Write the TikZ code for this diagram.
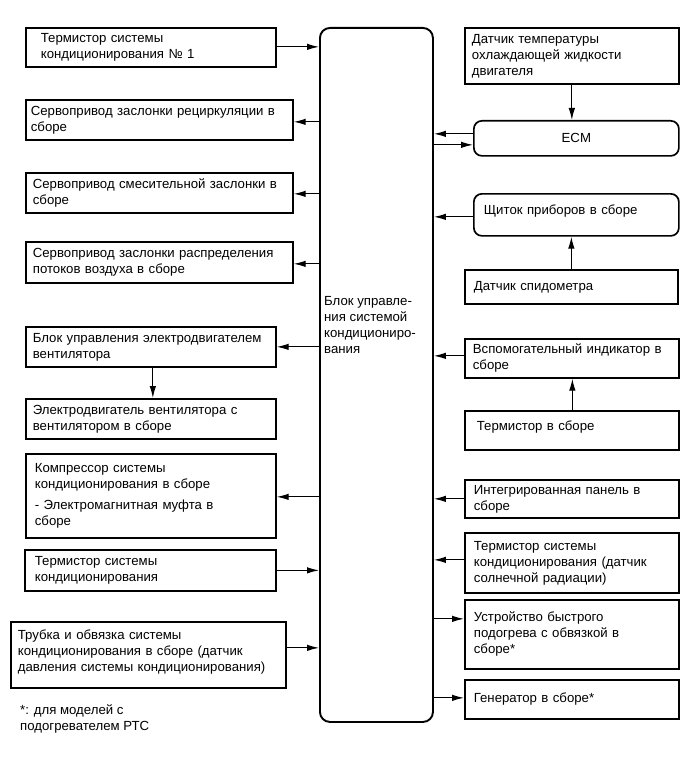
\documentclass[tikz,border=0pt]{standalone}
\usepackage{fontspec}
\setmainfont{Liberation Sans}
\usetikzlibrary{arrows.meta}
\newcommand\dfont{\fontsize{13.2}{16}\selectfont}
\begin{document}
\begin{tikzpicture}[x=1pt,y=-1pt,
  box/.style={draw, line width=1.7pt, anchor=north west, align=left, inner ysep=0pt, font=\dfont},
  rbox/.style={box, rounded corners=8pt},
  arr/.style={line width=1.1pt, -{Latex[length=12pt,width=6.5pt]}},
  lbl/.style={anchor=north west, align=left, inner sep=0pt, font=\dfont}]
\useasboundingbox (0,0) rectangle (690,757);
% centre block
\node[draw, line width=1.9pt, rounded corners=10pt, anchor=north west, minimum width=113, minimum height=694, inner sep=0pt] (C) at (319,27) {};
\node[anchor=west, align=left, inner sep=0pt, font=\dfont] (Ct) at (324,325) {Блок управле-\\ния системой\\кондициониро-\\вания};
% left boxes
\node[box, minimum width=250, minimum height=39, text width=220, inner xsep=15] (L1) at (25,27) {Термистор системы\\кондиционирования № 1};
\node[box, minimum width=267, minimum height=40, text width=257, inner xsep=5] (L2) at (25,99) {Сервопривод заслонки рециркуляции в\\сборе};
\node[box, minimum width=267, minimum height=40, text width=253, inner xsep=7] (L3) at (25,172) {Сервопривод смесительной заслонки в\\сборе};
\node[box, minimum width=267, minimum height=41, text width=253, inner xsep=7] (L4) at (25,241) {Сервопривод заслонки распределения\\потоков воздуха в сборе};
\node[box, minimum width=250, minimum height=40, text width=236, inner xsep=7] (L5) at (25,326) {Блок управления электродвигателем\\вентилятора};
\node[box, minimum width=250, minimum height=40, text width=236, inner xsep=7] (L6) at (25,398) {Электродвигатель вентилятора с\\вентилятором в сборе};
\node[box, minimum width=250, minimum height=84, text width=232, inner xsep=9] (L7) at (25,453) {Компрессор системы\\кондиционирования в сборе\\[5pt]- Электромагнитная муфта в\\сборе};
\node[box, minimum width=251, minimum height=41, text width=231, inner xsep=10] (L8) at (24,549) {Термистор системы\\кондиционирования};
\node[box, minimum width=275, minimum height=66, text width=261, inner xsep=7] (L9) at (10,621) {Трубка и обвязка системы\\кондиционирования в сборе (датчик\\давления системы кондиционирования)\\[-8pt]\mbox{}};
\node[lbl] (F) at (20,704) {*: для моделей с\\подогревателем РТС};
% right boxes
\node[box, minimum width=214, minimum height=56, text width=200, inner xsep=7] (R1) at (464,27) {Датчик температуры\\охлаждающей жидкости\\двигателя};
\node[rbox, minimum width=205, minimum height=35, text width=191, inner xsep=7, align=center] (ECM) at (473,120) {ECM};
\node[rbox, minimum width=205, minimum height=42, text width=185, inner xsep=10] (R2) at (473,193) {Щиток приборов в сборе\\[-6pt]\mbox{}};
\node[box, minimum width=213, minimum height=34, text width=195, inner xsep=9] (R3) at (464,269) {Датчик спидометра};
\node[box, minimum width=214, minimum height=39, text width=198, inner xsep=8] (R4) at (464,338) {Вспомогательный индикатор в\\сборе};
\node[box, minimum width=214, minimum height=39, text width=190, inner xsep=12] (R5) at (464,410) {Термистор в сборе\\[-6pt]\mbox{}};
\node[box, minimum width=214, minimum height=38, text width=196, inner xsep=9] (R6) at (464,479) {Интегрированная панель в\\сборе};
\node[box, minimum width=214, minimum height=60, text width=196, inner xsep=9] (R7) at (464,532) {Термистор системы\\кондиционирования (датчик\\солнечной радиации)};
\node[box, minimum width=214, minimum height=69, text width=196, inner xsep=9] (R8) at (464,599) {Устройство быстрого\\подогрева с обвязкой в\\сборе*};
\node[box, minimum width=214, minimum height=39, text width=196, inner xsep=9] (R9) at (464,679) {Генератор в сборе*};
% connectors left
\draw[arr] ([yshift=0.5]L1.east) -- ([yshift=0.5]L1.east -| C.west);
\draw[arr] ([yshift=-2]L2.east -| C.west) -- ([yshift=-2]L2.east);
\draw[arr] ([yshift=-1]L3.east -| C.west) -- ([yshift=-1]L3.east);
\draw[arr] ([yshift=-1.5]L4.east -| C.west) -- ([yshift=-1.5]L4.east);
\draw[arr] (L5.east -| C.west) -- (L5.east);
\draw[arr] ([xshift=2]L5.south) -- ([xshift=2]L6.north);
\draw[arr] ([yshift=-1]L7.east -| C.west) -- ([yshift=-1]L7.east);
\draw[arr] (L8.east) -- (L8.east -| C.west);
\draw[arr] ([yshift=7]L9.east) -- ([yshift=7]L9.east -| C.west);
% connectors right
\draw[arr] (R1.south) -- (R1.south |- ECM.north);
\draw[arr] ([yshift=4.5]ECM.west) -- ([yshift=4.5]ECM.west -| C.east);
\draw[arr] ([yshift=-6.5]ECM.west -| C.east) -- ([yshift=-6.5]ECM.west);
\draw[arr] ([yshift=-2]R2.west) -- ([yshift=-2]R2.west -| C.east);
\draw[arr] (R3.north) -- (R3.north |- R2.south);
\draw[arr] ([yshift=2.5]R4.west) -- ([yshift=2.5]R4.west -| C.east);
\draw[arr] ([xshift=0.5]R5.north) -- ([xshift=0.5]R5.north |- R4.south);
\draw[arr] (R6.west) -- (R6.west -| C.east);
\draw[arr] ([yshift=3]R7.west) -- ([yshift=3]R7.west -| C.east);
\draw[arr] ([yshift=15.5]R8.west -| C.east) -- ([yshift=15.5]R8.west);
\draw[arr] ([yshift=1.5]R9.west -| C.east) -- ([yshift=1.5]R9.west);
\end{tikzpicture}
\end{document}
